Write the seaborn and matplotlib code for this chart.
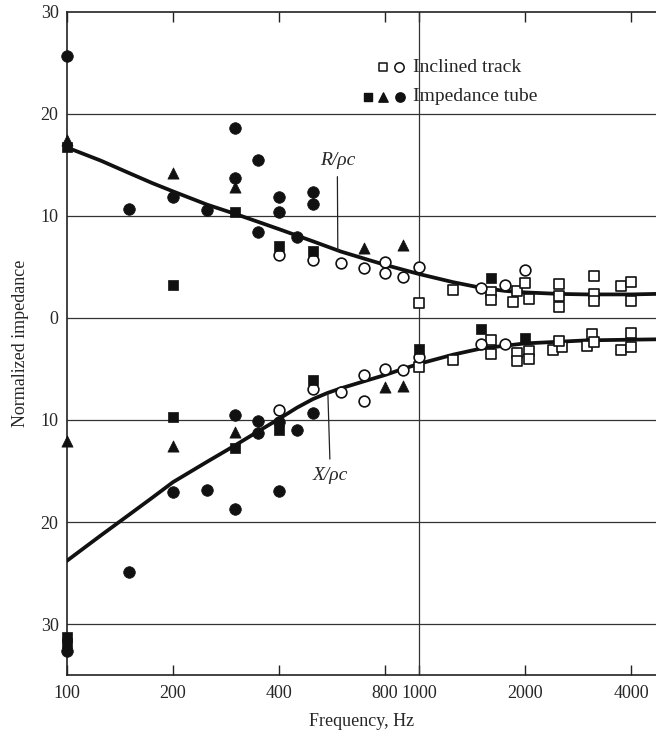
import numpy as np
import matplotlib
matplotlib.use("Agg")
import matplotlib.pyplot as plt
import seaborn as sns

# ==================================================
# DATA
# ==================================================

# inclined track - open squares
track_sq_f = [1000, 1250, 1600, 1600, 1900, 1850, 2000, 2050, 2500, 2500, 2500,
              3150, 3150, 3150, 3750, 4000, 4000,
              1000, 1250, 1600, 1600, 1900, 1900, 2050, 2050, 2400, 2550, 2500,
              3000, 3100, 3150, 3750, 4000, 4000]
track_sq_z = [1.5, 2.7, 2.5, 1.8, 2.6, 1.55, 3.4, 1.9, 3.3, 2.1, 1.1,
              4.1, 2.3, 1.65, 3.1, 3.5, 1.7,
              -4.8, -4.1, -2.2, -3.5, -3.4, -4.2, -3.2, -4.0, -3.1, -2.9, -2.3,
              -2.8, -1.6, -2.4, -3.1, -2.9, -1.5]

# inclined track - open circles
track_ci_f = [400, 500, 600, 700, 800, 800, 900, 1000, 1500, 1750, 2000,
              400, 500, 600, 700, 700, 800, 900, 1000, 1500, 1750]
track_ci_z = [6.2, 5.7, 5.4, 4.9, 5.5, 4.4, 4.0, 5.0, 2.9, 3.2, 4.7,
              -9.0, -7.0, -7.3, -5.6, -8.1, -5.0, -5.1, -3.8, -2.6, -2.6]

# impedance tube - filled squares
tube_sq_f = [100, 200, 300, 400, 500, 1600,
             100, 100, 200, 300, 400, 500, 1000, 1500, 2000]
tube_sq_z = [16.7, 3.2, 10.4, 7.0, 6.6, 3.9,
             -31.3, -31.9, -9.7, -12.7, -11.0, -6.1, -3.0, -1.1, -2.0]

# impedance tube - triangles
tube_tri_f = [100, 200, 300, 700, 900,
              100, 200, 300, 800, 900]
tube_tri_z = [17.4, 14.2, 12.8, 6.8, 7.1,
              -12.1, -12.6, -11.2, -6.8, -6.7]

# impedance tube - filled circles
tube_ci_f = [100, 150, 200, 250, 300, 300, 350, 350, 400, 400, 450, 500, 500,
             100, 150, 200, 250, 300, 300, 350, 350, 400, 400, 450, 500]
tube_ci_z = [25.7, 10.7, 11.8, 10.6, 18.6, 13.7, 15.5, 8.4, 11.8, 10.4, 7.9, 12.3, 11.2,
             -32.6, -24.9, -17.1, -16.9, -9.5, -18.7, -10.1, -11.3, -10.2, -17.0, -11.0, -9.3]

# faired curves
r_curve_f = [100, 125, 150, 175, 200, 250, 300, 350, 400, 500, 600, 700, 800,
             1000, 1250, 1500, 1750, 2000, 2500, 3000, 4000, 4710]
r_curve_z = [16.7, 15.4, 14.2, 13.2, 12.4, 11.1, 10.2, 9.4, 8.7, 7.5, 6.5, 5.8, 5.2,
             4.3, 3.5, 2.95, 2.65, 2.5, 2.35, 2.3, 2.3, 2.35]

x_curve_f = [100, 125, 150, 175, 200, 250, 300, 350, 400, 450, 500, 550, 600, 700,
             800, 900, 1000, 1250, 1500, 2000, 3000, 4710]
x_curve_z = [-23.8, -21.3, -19.3, -17.6, -16.1, -14.1, -12.5, -11.1, -9.9, -8.8, -7.95, -7.35, -6.9, -6.2,
             -5.6, -5.0, -4.5, -3.6, -3.0, -2.5, -2.2, -2.1]

x_ticks = [100, 200, 400, 800, 1000, 2000, 4000]
y_ticks = [-30, -20, -10, 0, 10, 20, 30]

# ==================================================
# STYLE
# ==================================================

sns.set_style("white")
plt.rcParams["font.family"] = ["Liberation Serif", "DejaVu Serif"]
plt.rcParams["font.size"] = 13

fig = plt.figure(figsize=(6.56, 7.33), dpi=100)
ax = fig.add_axes([0.102, 0.079, 0.898, 0.905])

# ==================================================
# CURVES + POINTS
# ==================================================

sns.lineplot(x=r_curve_f, y=r_curve_z, color="#111111", linewidth=2.7, ax=ax, zorder=3)
sns.lineplot(x=x_curve_f, y=x_curve_z, color="#111111", linewidth=2.7, ax=ax, zorder=3)

open_kw = dict(color="white", edgecolor="#111111", linewidth=1.2, clip_on=False, zorder=4)
fill_kw = dict(color="#111111", edgecolor="#111111", linewidth=0.5, clip_on=False, zorder=4)

sns.scatterplot(x=track_sq_f, y=track_sq_z, marker="s", s=55, ax=ax, **open_kw)
sns.scatterplot(x=track_ci_f, y=track_ci_z, marker="o", s=60, ax=ax, **open_kw)
sns.scatterplot(x=tube_sq_f, y=tube_sq_z, marker="s", s=55, ax=ax, **fill_kw)
sns.scatterplot(x=tube_tri_f, y=tube_tri_z, marker="^", s=65, ax=ax, **fill_kw)
sns.scatterplot(x=tube_ci_f, y=tube_ci_z, marker="o", s=70, ax=ax, **fill_kw)

# ==================================================
# AXES
# ==================================================

ax.set_xscale("log")
ax.set_xlim(100, 4710)
ax.set_ylim(-35, 30)
ax.set_xticks(x_ticks)
ax.set_xticklabels([str(t) for t in x_ticks])
ax.xaxis.set_minor_locator(matplotlib.ticker.NullLocator())
ax.set_yticks(y_ticks)
ax.set_yticklabels([str(abs(t)) for t in y_ticks])

ax.tick_params(axis="x", which="major", direction="in", top=True, bottom=True,
               length=7, width=1, color="#222222", pad=7, labelsize=13)
ax.tick_params(axis="y", length=0, pad=6, labelsize=13)

for t in y_ticks[:-1]:
    ax.axhline(t, color="#333333", linewidth=0.9, zorder=1)
ax.axvline(1000, color="#333333", linewidth=0.9, zorder=1)

for side in ["left", "top", "bottom"]:
    ax.spines[side].set_color("#222222")
    ax.spines[side].set_linewidth(1.2)
ax.spines["right"].set_visible(False)

ax.set_xlabel("Frequency, Hz", fontsize=13, labelpad=8)
ax.set_ylabel("Normalized impedance", fontsize=13, labelpad=8)

# ==================================================
# CURVE LABELS
# ==================================================

ax.annotate("R/ρc", xy=(588, 6.5), xytext=(586, 15.4), ha="center", va="center",
            fontstyle="italic", fontsize=14,
            arrowprops=dict(arrowstyle="-", color="#222222", lw=0.9, shrinkA=3, shrinkB=0))
ax.annotate("X/ρc", xy=(551, -7.4), xytext=(560, -15.4), ha="center", va="center",
            fontstyle="italic", fontsize=14,
            arrowprops=dict(arrowstyle="-", color="#222222", lw=0.9, shrinkA=3, shrinkB=0))

# ==================================================
# LEGEND (hand made, like the original)
# ==================================================

tr = ax.transAxes
ax.scatter([0.5365], [0.916], marker="s", s=40, facecolor="white", edgecolor="#111111", lw=1.1, transform=tr, clip_on=False)
ax.scatter([0.5637], [0.916], marker="o", s=45, facecolor="white", edgecolor="#111111", lw=1.1, transform=tr, clip_on=False)
ax.text(0.5874, 0.916, "Inclined track", transform=tr, va="center", ha="left", fontsize=14)

ax.scatter([0.511], [0.872], marker="s", s=40, color="#111111", transform=tr, clip_on=False)
ax.scatter([0.5365], [0.872], marker="^", s=45, color="#111111", transform=tr, clip_on=False)
ax.scatter([0.5654], [0.872], marker="o", s=45, color="#111111", transform=tr, clip_on=False)
ax.text(0.5874, 0.872, "Impedance tube", transform=tr, va="center", ha="left", fontsize=14)

fig.savefig("out.png", dpi=100)
